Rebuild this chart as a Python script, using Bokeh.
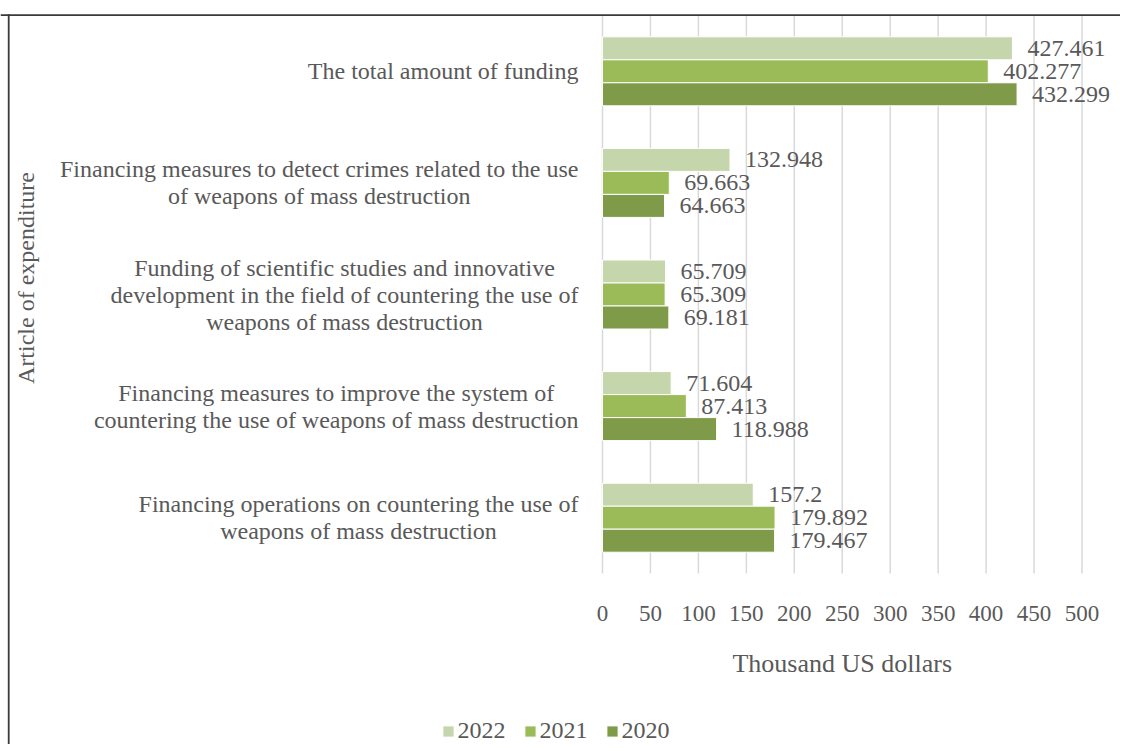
import math
from bokeh.plotting import figure
from bokeh.models import (ColumnDataSource, Legend, LegendItem, Range1d, Span)
from bokeh.core.properties import value
from bokeh.embed import file_html
from bokeh.resources import INLINE

# ---------------- data ----------------
categories = [
    ["The total amount of funding"],
    ["Financing measures to detect crimes related to the use",
     "of weapons of mass destruction"],
    ["Funding of scientific studies and innovative",
     "development in the field of countering the use of",
     "weapons of mass destruction"],
    ["Financing measures to improve the system of",
     "countering the use of weapons of mass destruction"],
    ["Financing operations on countering the use of",
     "weapons of mass destruction"],
]
years = ["2022", "2021", "2020"]
values_2022 = [427.461, 132.948, 65.709, 71.604, 157.2]
values_2021 = [402.277, 69.663, 65.309, 87.413, 179.892]
values_2020 = [432.299, 64.663, 69.181, 118.988, 179.467]
x_ticks = [0, 50, 100, 150, 200, 250, 300, 350, 400, 450, 500]
x_title = "Thousand US dollars"
y_title = "Article of expenditure"

# ---------------- layout / style ----------------
FONT = "Liberation Serif"
TEXT = "#595959"
BORDER = "#3A3A3A"
colors = ["#C6D6AC", "#9BBB59", "#7F9A48"]

OX, OY = 0, 0            # canvas origin in the picture
W, H = 1120, 744
X0_PX, XMAX_PX = 602.0, 1081.5   # picture x of value 0 and of last tick
Y0_PX, YN_PX = 15.0, 573.0       # picture y of top / bottom of category band
n = len(categories)
px_per_x = (XMAX_PX - X0_PX) / x_ticks[-1]
px_per_y = (YN_PX - Y0_PX) / n


def xd(px):
    return (px - X0_PX) / px_per_x


def yd(py):
    return (py - Y0_PX) / px_per_y


bar_h = 23 / px_per_y
line_gap = 27 / px_per_y

# Times / Liberation Serif advance widths (per 1000 em)
CW = {' ': 250, 'a': 444, 'b': 500, 'c': 444, 'd': 500, 'e': 444, 'f': 333,
      'g': 500, 'h': 500, 'i': 278, 'j': 278, 'k': 500, 'l': 278, 'm': 778,
      'n': 500, 'o': 500, 'p': 500, 'q': 500, 'r': 333, 's': 389, 't': 278,
      'u': 500, 'v': 500, 'w': 722, 'x': 500, 'y': 500, 'z': 444,
      'T': 611, 'F': 556}


def text_w(s, fs):
    return sum(CW.get(ch, 500) for ch in s) * fs / 1000.0


p = figure(width=W, height=H, output_backend="svg", toolbar_location=None,
           x_range=Range1d(xd(OX), xd(OX + W)),
           y_range=Range1d(yd(OY + H), yd(OY)),
           min_border=0)
p.outline_line_color = None
p.background_fill_color = "white"
p.border_fill_color = "white"
p.xaxis.visible = False
p.yaxis.visible = False
p.xgrid.visible = False
p.ygrid.visible = False

# vertical gridlines at the ticks, spanning the category band
p.segment(x0=x_ticks, y0=[0] * len(x_ticks), x1=x_ticks, y1=[n] * len(x_ticks),
          line_color="#D9D9D9", line_width=1.5)

# bars + value labels
series = [values_2022, values_2021, values_2020]
offsets = [-bar_h, 0.0, bar_h]
renderers = []
for vals, off, col, yr in zip(series, offsets, colors, years):
    ys = [i + 0.5 + off for i in range(n)]
    src = ColumnDataSource(dict(y=ys, right=vals, text=[str(v) for v in vals]))
    r = p.hbar(y="y", left=0, right="right", height=bar_h, source=src,
               fill_color=col, line_color="white", line_width=1)
    renderers.append((yr, r))
    p.text(x="right", y="y", text="text", source=src, x_offset=15,
           text_align="left", text_baseline="middle",
           text_font=value(FONT), text_font_size=value("24px"), text_color=TEXT)

# category labels (lines centred within a right-aligned block)
lx, ly, ltxt, loff = [], [], [], []
for i, lines in enumerate(categories):
    bw = max(text_w(s, 24) for s in lines)
    for k, s in enumerate(lines):
        lx.append(0)
        ly.append(i + 0.5 + (k - (len(lines) - 1) / 2) * line_gap)
        ltxt.append(s)
        loff.append(-(24 + bw / 2))
csrc = ColumnDataSource(dict(x=lx, y=ly, text=ltxt, xo=loff))
p.text(x="x", y="y", text="text", x_offset="xo", source=csrc,
       text_align="center", text_baseline="middle",
       text_font=value(FONT), text_font_size=value("24px"), text_color=TEXT)

# x tick labels
p.text(x=x_ticks, y=[yd(613)] * len(x_ticks), text=[str(t) for t in x_ticks],
       text_align="center", text_baseline="middle",
       text_font=value(FONT), text_font_size=value("23px"), text_color=TEXT)

# axis titles
p.text(x=[(x_ticks[0] + x_ticks[-1]) / 2], y=[yd(663)], text=[x_title],
       text_align="center", text_baseline="middle",
       text_font=value(FONT), text_font_size=value("26px"), text_color=TEXT)
p.text(x=[xd(25)], y=[yd(277.5)], text=[y_title], angle=math.pi / 2,
       text_align="center", text_baseline="middle",
       text_font=value(FONT), text_font_size=value("24px"), text_color=TEXT)

# chart-area border (top and left edges)
p.add_layout(Span(location=yd(14.6), dimension="width",
                  line_color=BORDER, line_width=1.8))
p.segment(x0=[xd(8.2)], y0=[yd(13.7)], x1=[xd(8.2)], y1=[yd(OY + H)],
          line_color=BORDER, line_width=1.8)

legend = Legend(items=[LegendItem(label=yr, renderers=[r]) for yr, r in renderers],
                location=(440.6 - OX, 0), orientation="horizontal",
                glyph_width=14, glyph_height=14, label_standoff=3, spacing=17,
                padding=0, margin=0, border_line_color=None,
                background_fill_alpha=0, label_text_font=FONT,
                label_text_font_size="24px", label_text_color=TEXT,
                label_height=20)
p.add_layout(legend)

open("out.html", "w").write(file_html(p, INLINE))
